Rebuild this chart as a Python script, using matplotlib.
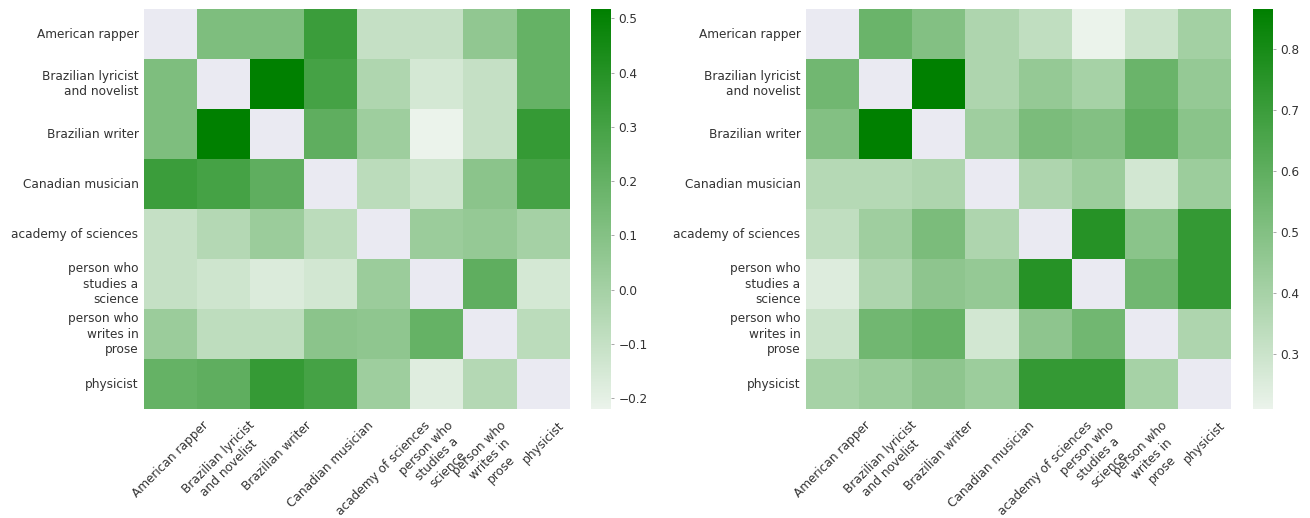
import numpy as np
import matplotlib
matplotlib.use("Agg")
import matplotlib.pyplot as plt
import seaborn as sns

labels = ["American rapper", "Brazilian lyricist\nand novelist", "Brazilian writer",
          "Canadian musician", "academy of sciences", "person who\nstudies a\nscience",
          "person who\nwrites in\nprose", "physicist"]

# similarity between descriptions, first model (diagonal is masked)
sim_a = [
    [0.00, 0.12, 0.12, 0.33, -0.10, -0.10, 0.06, 0.20],
    [0.12, 0.00, 0.517, 0.30, -0.03, -0.15, -0.10, 0.20],
    [0.12, 0.517, 0.00, 0.22, 0.02, -0.22, -0.10, 0.35],
    [0.33, 0.30, 0.22, 0.00, -0.07, -0.13, 0.08, 0.30],
    [-0.10, -0.05, 0.03, -0.07, 0.00, 0.03, 0.05, 0.00],
    [-0.10, -0.13, -0.17, -0.14, 0.03, 0.00, 0.22, -0.15],
    [0.03, -0.08, -0.08, 0.08, 0.07, 0.20, 0.00, -0.07],
    [0.20, 0.22, 0.35, 0.30, 0.02, -0.18, -0.05, 0.00],
]

# second model
sim_b = [
    [0.00, 0.57, 0.50, 0.38, 0.33, 0.21, 0.30, 0.41],
    [0.55, 0.00, 0.865, 0.38, 0.45, 0.40, 0.57, 0.45],
    [0.50, 0.865, 0.00, 0.42, 0.52, 0.50, 0.60, 0.48],
    [0.36, 0.36, 0.38, 0.00, 0.38, 0.43, 0.28, 0.43],
    [0.33, 0.42, 0.52, 0.38, 0.00, 0.76, 0.48, 0.72],
    [0.25, 0.38, 0.47, 0.45, 0.76, 0.00, 0.55, 0.72],
    [0.30, 0.55, 0.58, 0.28, 0.47, 0.55, 0.00, 0.38],
    [0.40, 0.43, 0.47, 0.43, 0.72, 0.72, 0.40, 0.00],
]

sns.set_style("darkgrid")
plt.rcParams["font.family"] = ["DejaVu Sans"]
cmap = sns.light_palette("green", as_cmap=True)
mask = np.eye(len(labels), dtype=bool)

fig = plt.figure(figsize=(13.1, 5.18), dpi=100)
positions = [
    ([0.1099, 0.2104, 0.3252, 0.7722], [0.4511, 0.2104, 0.0150, 0.7722]),
    ([0.6153, 0.2104, 0.3244, 0.7722], [0.9565, 0.2104, 0.0150, 0.7722]),
]

for data, (ax_pos, cb_pos) in zip([sim_a, sim_b], positions):
    ax = fig.add_axes(ax_pos)
    cax = fig.add_axes(cb_pos)
    sns.heatmap(np.array(data), mask=mask, cmap=cmap, ax=ax, cbar_ax=cax,
                xticklabels=labels, yticklabels=labels)
    ax.grid(False)
    ax.set_xticklabels(labels, rotation=45, ha="center", fontsize=8.7,
                       color="#333333", linespacing=1.2)
    ax.set_yticklabels(labels, rotation=0, fontsize=8.7, color="#333333",
                       linespacing=1.25)
    ax.tick_params(axis="y", length=0, pad=4)
    ax.tick_params(axis="x", length=0, pad=7)
    cax.tick_params(labelsize=8.7, labelcolor="#333333", right=True, length=2.5,
                    width=0.6, color="#999999", pad=3)

plt.savefig("out.png", dpi=100)
